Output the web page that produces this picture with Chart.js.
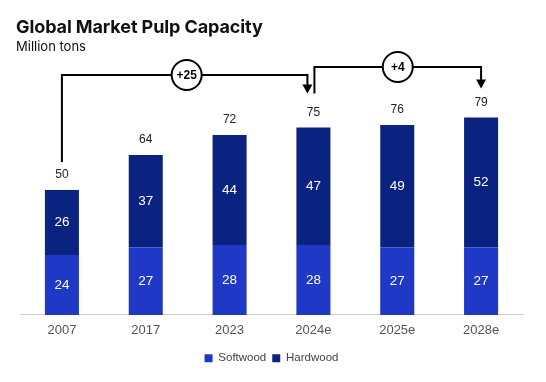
<!DOCTYPE html>
<html>
<head>
<meta charset="utf-8">
<script src="https://cdn.jsdelivr.net/npm/chart.js@4.4.1/dist/chart.umd.min.js"></script>
<style>
    html, body { margin: 0; padding: 0; background: #ffffff; }
    #wrap { position: relative; width: 546px; height: 382px; }
    #title { position: absolute; left: 16px; top: 16px; font: bold 18px Inter, "Noto Sans", sans-serif; color: #111111; letter-spacing: -0.1px; }
    #subtitle { position: absolute; left: 16px; top: 38px; font: 13px Inter, "Noto Sans", sans-serif; color: #111111; }
</style>
</head>
<body>
<div id="wrap">
    <div id="title">Global Market Pulp Capacity</div>
    <div id="subtitle">Million tons</div>
    <canvas id="pulpChart" width="546" height="382"></canvas>
</div>
<script>
// Data
const years = ['2007', '2017', '2023', '2024e', '2025e', '2028e'];
const softwood = [24, 27, 28, 28, 27, 27];
const hardwood = [26, 37, 44, 47, 49, 52];
const totals = [50, 64, 72, 75, 76, 79];

// Growth brackets: from index -> to index, label
const bracketFrom = [0, 3];
const bracketTo = [3, 5];
const bracketLabels = ['+25', '+4'];

const softColor = '#1f38c6';
const hardColor = '#0b2380';

// Labels inside segments + totals on top
const barLabels = {
    id: 'barLabels',
    afterDatasetsDraw(chart) {
        const ctx = chart.ctx;
        ctx.save();
        ctx.textAlign = 'center';
        ctx.textBaseline = 'middle';
        chart.data.datasets.forEach((ds, i) => {
            const meta = chart.getDatasetMeta(i);
            meta.data.forEach((bar, j) => {
                ctx.fillStyle = '#ffffff';
                ctx.font = '13.5px "Liberation Sans", Arial, sans-serif';
                ctx.fillText(ds.data[j], bar.x, (bar.y + bar.base) / 2);
            });
        });
        const y = chart.scales.y;
        const top = chart.getDatasetMeta(1);
        ctx.fillStyle = '#222222';
        ctx.font = '12px "Liberation Sans", Arial, sans-serif';
        top.data.forEach((bar, j) => {
            ctx.fillText(totals[j], bar.x, y.getPixelForValue(totals[j]) - 15);
        });
        ctx.restore();
    }
};

// Bracket arrows with circled difference
const brackets = {
    id: 'brackets',
    afterDraw(chart) {
        const ctx = chart.ctx;
        const x = chart.scales.x;
        const y = chart.scales.y;
        const levels = [75, 67];      // horizontal line heights (px)
        const startGap = [28, 34];    // gap above the start bar
        const tipGap = [34, 29];      // gap between arrow tip and end bar
        const xShift = [[0, -6], [1, 0]];
        ctx.save();
        ctx.strokeStyle = '#000000';
        ctx.lineWidth = 2;
        bracketFrom.forEach((from, k) => {
            const to = bracketTo[k];
            const x1 = x.getPixelForValue(from) + xShift[k][0];
            const x2 = x.getPixelForValue(to) + xShift[k][1];
            const yStart = y.getPixelForValue(totals[from]) - startGap[k];
            const tip = y.getPixelForValue(totals[to]) - tipGap[k];
            const level = levels[k];
            ctx.beginPath();
            ctx.moveTo(x1, yStart);
            ctx.lineTo(x1, level);
            ctx.lineTo(x2, level);
            ctx.lineTo(x2, tip - 8);
            ctx.stroke();
            // arrow head
            ctx.fillStyle = '#000000';
            ctx.beginPath();
            ctx.moveTo(x2 - 5, tip - 9);
            ctx.lineTo(x2 + 5, tip - 9);
            ctx.lineTo(x2, tip);
            ctx.closePath();
            ctx.fill();
            // circle
            const cx = (x1 + x2) / 2 + (k === 0 ? 2 : 0);
            ctx.beginPath();
            ctx.arc(cx, level, 15, 0, Math.PI * 2);
            ctx.fillStyle = '#ffffff';
            ctx.fill();
            ctx.stroke();
            ctx.fillStyle = '#000000';
            ctx.font = 'bold 12px "Liberation Sans", Arial, sans-serif';
            ctx.textAlign = 'center';
            ctx.textBaseline = 'middle';
            ctx.fillText(bracketLabels[k], cx, level + 1);
        });
        ctx.restore();
    }
};

new Chart(document.getElementById('pulpChart'), {
    type: 'bar',
    data: {
        labels: years,
        datasets: [
            {
                label: 'Softwood',
                data: softwood,
                backgroundColor: softColor,
                barPercentage: 0.406,
                categoryPercentage: 1
            },
            {
                label: 'Hardwood',
                data: hardwood,
                backgroundColor: hardColor,
                barPercentage: 0.406,
                categoryPercentage: 1
            }
        ]
    },
    options: {
        responsive: false,
        animation: false,
        layout: {
            padding: { top: 65, left: 20, right: 23, bottom: 8 }
        },
        plugins: {
            legend: {
                position: 'bottom',
                labels: {
                    boxWidth: 8,
                    boxHeight: 8,
                    padding: 6,
                    color: '#444444',
                    font: { size: 11.5, family: '"Liberation Sans", Arial, sans-serif' }
                }
            },
            tooltip: { enabled: false }
        },
        scales: {
            x: {
                stacked: true,
                grid: { display: false, drawTicks: false, tickLength: 0 },
                border: { color: '#cccccc', width: 1 },
                ticks: {
                    color: '#555555',
                    padding: 8,
                    font: { size: 13, family: '"Liberation Sans", Arial, sans-serif' }
                }
            },
            y: {
                stacked: true,
                display: false,
                min: 0,
                max: 100
            }
        }
    },
    plugins: [barLabels, brackets]
});
</script>
</body>
</html>
